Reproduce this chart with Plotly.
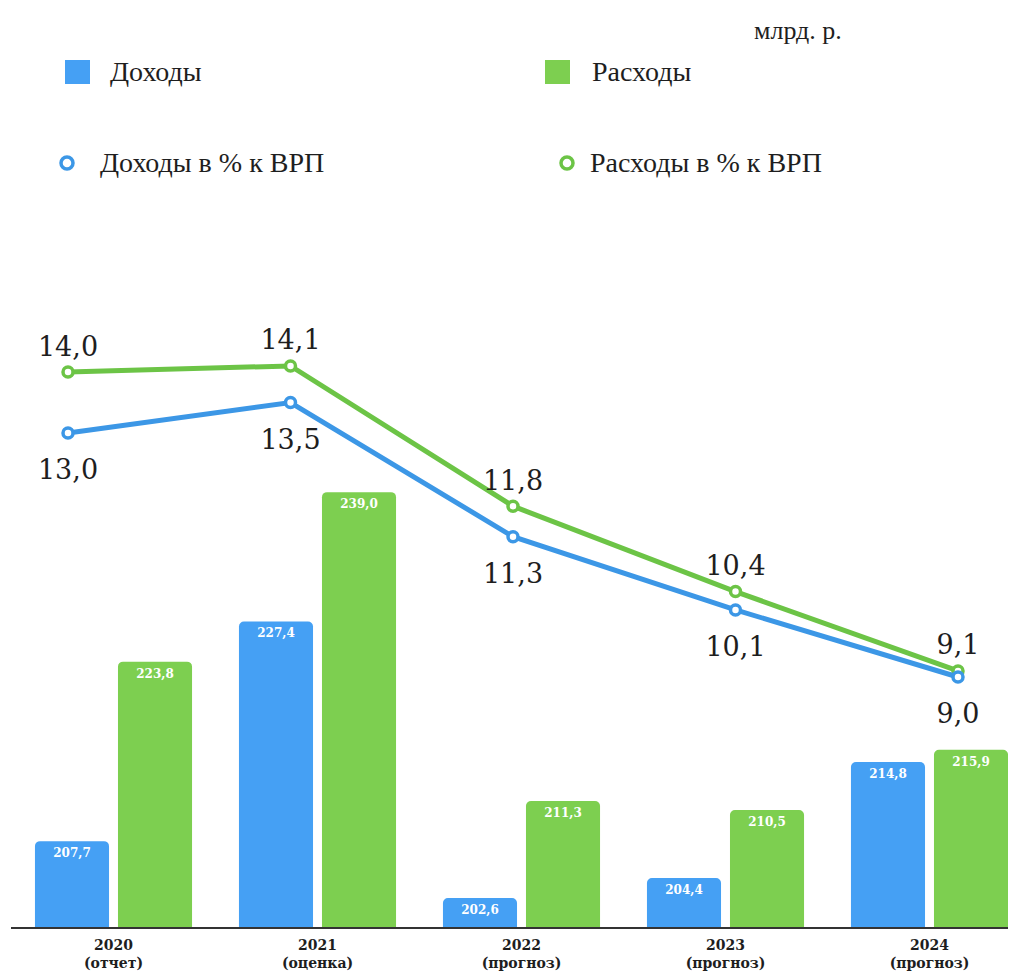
import plotly.graph_objects as go

# ---- data ----
years = ["2020", "2021", "2022", "2023", "2024"]
notes = ["(отчет)", "(оценка)", "(прогноз)", "(прогноз)", "(прогноз)"]
income = [207.7, 227.4, 202.6, 204.4, 214.8]
expense = [223.8, 239.0, 211.3, 210.5, 215.9]
income_pct = [13.0, 13.5, 11.3, 10.1, 9.0]
expense_pct = [14.0, 14.1, 11.8, 10.4, 9.1]

categories = [f"{y}<br>{n}" for y, n in zip(years, notes)]


def fmt(v):
    return f"{v:.1f}".replace(".", ",")


# page body margin offsets the figure by 8px; work in screen coords
OFF = 8
SW, SH = 1016, 972
W, H = SW - OFF, SH - OFF
PLOT_L, PLOT_R, PLOT_T, PLOT_B = 11, 1016, 230, 927  # screen px
ML, MR = PLOT_L - OFF, 0
MT, MB = PLOT_T - OFF, H - (PLOT_B - OFF)
PW, PH = W - ML - MR, H - MT - MB


def px(x):
    return (x - PLOT_L) / PW


def py(y):
    return (PLOT_B - y) / PH


BAR_BLUE = "#45a0f4"
BAR_GREEN = "#7dcf50"
LINE_BLUE = "#3c97e6"
LINE_GREEN = "#6cc446"
TXT = "#1e1e1e"
LBL_FONT = dict(family="DejaVu Serif", size=27, color=TXT)
BAR_FONT = dict(family="DejaVu Serif", size=12, color="white", weight="bold")

fig = go.Figure()

fig.add_trace(go.Bar(
    x=categories, y=income, name="Доходы",
    marker=dict(color=BAR_BLUE, line=dict(width=0)),
    text=[fmt(v) for v in income], textposition="inside",
    insidetextanchor="end", textfont=BAR_FONT,
    xaxis="x", yaxis="y", showlegend=False,
))
fig.add_trace(go.Bar(
    x=categories, y=expense, name="Расходы",
    marker=dict(color=BAR_GREEN, line=dict(width=0)),
    text=[fmt(v) for v in expense], textposition="inside",
    insidetextanchor="end", textfont=BAR_FONT,
    xaxis="x", yaxis="y", showlegend=False,
))

fig.add_trace(go.Scatter(
    x=categories, y=expense_pct, name="Расходы в % к ВРП",
    mode="lines+markers",
    line=dict(color=LINE_GREEN, width=5),
    marker=dict(symbol="circle", size=10, color="white",
                line=dict(color=LINE_GREEN, width=3.5)),
    xaxis="x2", yaxis="y2", showlegend=False, cliponaxis=False,
))
fig.add_trace(go.Scatter(
    x=categories, y=income_pct, name="Доходы в % к ВРП",
    mode="lines+markers",
    line=dict(color=LINE_BLUE, width=5),
    marker=dict(symbol="circle", size=10, color="white",
                line=dict(color=LINE_BLUE, width=3.5)),
    xaxis="x2", yaxis="y2", showlegend=False, cliponaxis=False,
))
# value labels (invisible spacer markers set the label distance)
fig.add_trace(go.Scatter(
    x=categories, y=expense_pct, mode="markers+text",
    marker=dict(size=14, color="rgba(0,0,0,0)"),
    text=[fmt(v) for v in expense_pct], textposition="top center",
    textfont=LBL_FONT, hoverinfo="skip",
    xaxis="x2", yaxis="y2", showlegend=False, cliponaxis=False,
))
fig.add_trace(go.Scatter(
    x=categories, y=income_pct, mode="markers+text",
    marker=dict(size=40, color="rgba(0,0,0,0)"),
    text=[fmt(v) for v in income_pct], textposition="bottom center",
    textfont=LBL_FONT, hoverinfo="skip",
    xaxis="x2", yaxis="y2", showlegend=False, cliponaxis=False,
))

# ranges derived from the reference's pixel geometry (screen px)
bar_step = 204.0
bar_c0 = 113.5
x_r0 = -(bar_c0 - PLOT_L) / bar_step
x_r1 = x_r0 + PW / bar_step

line_step = 222.5
line_c0 = 68.0
x2_r0 = -(line_c0 - PLOT_L) / line_step
x2_r1 = x2_r0 + PW / line_step

y_ppu = 11.15
y_r0 = 200.0
y_r1 = y_r0 + PH / y_ppu

y2_ppu = 61.0
y2_ref_px, y2_ref_v = 372.0, 14.0
y2_r1 = y2_ref_v + (y2_ref_px - PLOT_T) / y2_ppu
y2_r0 = y2_r1 - PH / y2_ppu

shapes = []
annotations = []

# custom legend (screen px)
legend_items = [
    ("square", BAR_BLUE, 65, 90, 60, 84, "Доходы", 108, 72),
    ("square", BAR_GREEN, 545, 570, 60, 84, "Расходы", 590, 72),
    ("circle", LINE_BLUE, 61, 73, 157, 169, "Доходы в % к ВРП", 98, 163),
    ("circle", LINE_GREEN, 561, 573, 157, 169, "Расходы в % к ВРП", 588, 163),
]
for kind, col, x0, x1, y0, y1, label, tx, ty in legend_items:
    if kind == "square":
        shapes.append(dict(type="rect", xref="paper", yref="paper",
                           x0=px(x0), x1=px(x1), y0=py(y1), y1=py(y0),
                           fillcolor=col, line=dict(width=0)))
    else:
        shapes.append(dict(type="circle", xref="paper", yref="paper",
                           x0=px(x0), x1=px(x1), y0=py(y1), y1=py(y0),
                           fillcolor="white", line=dict(color=col, width=3.5)))
    annotations.append(dict(text=label, xref="paper", yref="paper",
                            x=px(tx), y=py(ty), xanchor="left", yanchor="middle",
                            showarrow=False,
                            font=dict(family="Liberation Serif", size=28, color=TXT)))

annotations.append(dict(text="млрд. р.", xref="paper", yref="paper",
                        x=px(798), y=py(30), xanchor="center", yanchor="middle",
                        showarrow=False,
                        font=dict(family="Liberation Serif", size=26, color=TXT)))

fig.update_layout(
    width=W, height=H,
    margin=dict(l=ML, r=MR, t=MT, b=MB, pad=0),
    paper_bgcolor="white", plot_bgcolor="white",
    barmode="group", bargap=0.186, bargroupgap=0.108,
    barcornerradius=5,
    showlegend=False,
    hovermode=False,
    xaxis=dict(type="category", categoryorder="array", categoryarray=categories,
               range=[x_r0, x_r1], showgrid=False, zeroline=False,
               showline=True, linecolor="#333333", linewidth=2,
               ticks="", ticklabelstandoff=4,
               tickfont=dict(family="DejaVu Serif", size=14, color=TXT, weight="bold")),
    xaxis2=dict(type="category", categoryorder="array", categoryarray=categories,
                overlaying="x", range=[x2_r0, x2_r1], visible=False),
    yaxis=dict(range=[y_r0, y_r1], visible=False, showgrid=False),
    yaxis2=dict(range=[y2_r0, y2_r1], overlaying="y", visible=False, showgrid=False),
    shapes=shapes,
    annotations=annotations,
)

fig.write_html("out.html")
